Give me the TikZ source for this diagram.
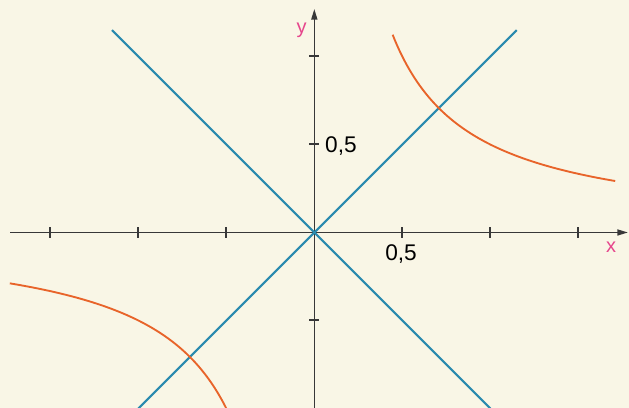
\documentclass[tikz,border=0pt]{standalone}
\usepackage{fontspec}
\setmainfont{Liberation Sans}
\usetikzlibrary{arrows.meta}

\definecolor{sfondo}{HTML}{F9F6E6}
\definecolor{asse}{HTML}{383838}
\definecolor{blu}{HTML}{2A8AAE}
\definecolor{arancio}{HTML}{E8642A}
\definecolor{fucsia}{HTML}{E6468C}

\begin{document}
\begin{tikzpicture}[
    x=132pt, y=132pt,
    axis/.style={
        draw=asse,
        line width=1.2pt,
        -{Triangle[length=8pt, width=4.5pt]}
    },
    tick/.style={draw=asse, line width=1.5pt},
    retta/.style={draw=blu, line width=1.6pt},
    ramo/.style={draw=arancio, line width=1.4pt, smooth, samples=80},
    lab/.style={inner sep=0pt, font=\fontsize{17}{20}\selectfont},
    var/.style={inner sep=0pt, text=fucsia, font=\fontsize{15}{17}\selectfont}
]
% area of the figure
\fill[sfondo] (-1.786,-0.997) rectangle (1.788,1.321);
\useasboundingbox (-1.786,-0.997) rectangle (1.788,1.321);

% axes
\draw[axis] (-1.727,0) -- (1.782,0);
\draw[axis] (0,-1.0) -- (0,1.27);
\foreach \t in {-1.5,-1,-0.5,0.5,1,1.5}
    \draw[tick] (\t,-0.029) -- (\t,0.029);
\foreach \t in {-0.5,0.5,1}
    \draw[tick] (-0.029,\t) -- (0.029,\t);

% bisectors
\draw[retta] (-1,-1) -- (1.15,1.15);
\draw[retta] (-1.15,1.15) -- (1,-1);

% hyperbola y = 1/(2x)
\draw[ramo] plot[domain=0.445:1.71] (\x,{0.5/\x});
\draw[ramo] plot[domain=-1.73:-0.5] (\x,{0.5/\x});

\node[lab, anchor=north] (xmezzo) at (0.493,-0.07) {0,5};
\node[lab, anchor=west] (ymezzo) at (0.06,0.49) {0,5};
\node[var] (xlab) at (1.686,-0.082) {x};
\node[var] (ylab) at (-0.072,1.15) {y};
\end{tikzpicture}
\end{document}
